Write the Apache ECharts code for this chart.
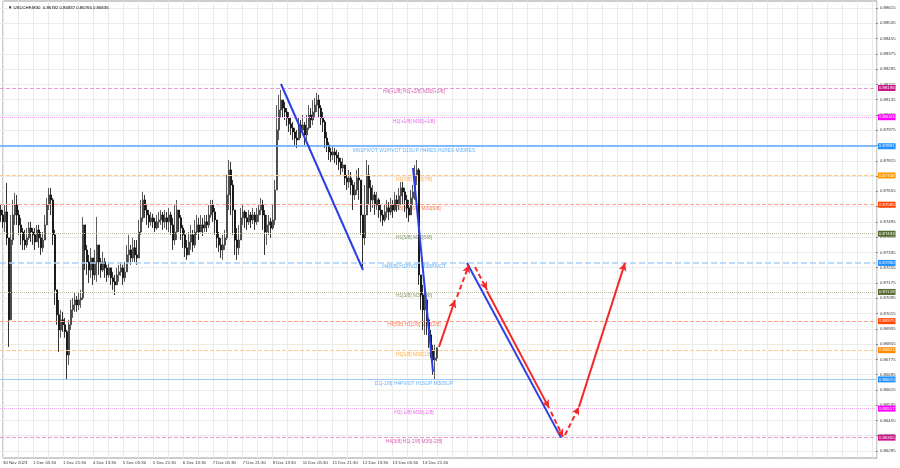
<!DOCTYPE html>
<html><head><meta charset="utf-8">
<script src="https://cdn.jsdelivr.net/npm/echarts@6.0.0/dist/echarts.min.js"></script>
<style>html,body{margin:0;padding:0;background:#fff}#c{width:900px;height:468px}</style>
</head><body><div id="c"></div>
<script>
// ---------- DATA ----------
const titleText = "\u25BC USDCHF,M30  0.86782 0.86837 0.86766 0.86836";
const firstOpen = 0.87557;
const closes = [
0.87531,0.87495,0.87547,0.87411,0.86982,0.87400,0.87531,0.87583,0.87531,0.87479,
0.87442,0.87400,0.87374,0.87411,0.87463,0.87442,0.87427,0.87390,0.87453,0.87411,
0.87359,0.87400,0.87479,0.87583,0.87636,0.87610,0.87427,0.87139,0.87008,0.86929,
0.86982,0.86956,0.86919,0.86798,0.86956,0.87034,0.87060,0.87086,0.87060,0.87086,
0.87097,0.87479,0.87348,0.87285,0.87243,0.87306,0.87217,0.87285,0.87374,0.87285,
0.87243,0.87285,0.87254,0.87217,0.87254,0.87202,0.87181,0.87165,0.87217,0.87233,
0.87254,0.87202,0.87233,0.87322,0.87348,0.87306,0.87359,0.87322,0.87306,0.87442,
0.87516,0.87610,0.87557,0.87531,0.87495,0.87516,0.87495,0.87463,0.87495,0.87505,
0.87531,0.87495,0.87516,0.87495,0.87531,0.87479,0.87400,0.87442,0.87557,0.87516,
0.87463,0.87427,0.87359,0.87322,0.87390,0.87427,0.87374,0.87442,0.87479,0.87442,
0.87479,0.87463,0.87495,0.87479,0.87531,0.87583,0.87547,0.87505,0.87411,0.87374,
0.87348,0.87374,0.87411,0.87636,0.87767,0.87688,0.87557,0.87400,0.87359,0.87400,
0.87516,0.87547,0.87516,0.87495,0.87531,0.87505,0.87531,0.87495,0.87531,0.87557,
0.87583,0.87531,0.87442,0.87479,0.87495,0.87463,0.87505,0.87662,0.87976,0.88081,
0.88133,0.88091,0.88070,0.88039,0.88008,0.87987,0.87966,0.87934,0.87924,0.88002,
0.87976,0.88002,0.87950,0.87987,0.88055,0.88029,0.88070,0.88107,0.88133,0.88091,
0.88039,0.88018,0.87934,0.87898,0.87861,0.87845,0.87861,0.87845,0.87830,0.87809,
0.87777,0.87793,0.87725,0.87704,0.87725,0.87688,0.87636,0.87662,0.87725,0.87714,
0.87531,0.87411,0.87531,0.87741,0.87673,0.87610,0.87636,0.87583,0.87610,0.87557,
0.87531,0.87505,0.87547,0.87568,0.87547,0.87583,0.87557,0.87610,0.87583,0.87631,
0.87673,0.87652,0.87610,0.87568,0.87531,0.87620,0.87652,0.87741,0.87767,0.87217,
0.87112,0.87034,0.87086,0.86982,0.86903,0.86824,0.86772,0.86782,0.86836
];
const highs = [
0.87583,0.87557,0.87583,0.87699,0.87348,0.87531,0.87610,0.87647,0.87636,0.87557,
0.87516,0.87463,0.87453,0.87463,0.87495,0.87495,0.87463,0.87463,0.87479,0.87479,
0.87442,0.87442,0.87531,0.87620,0.87673,0.87673,0.87620,0.87453,0.87139,0.87086,
0.87034,0.87024,0.86992,0.86929,0.86982,0.87086,0.87097,0.87128,0.87107,0.87128,
0.87139,0.87521,0.87400,0.87374,0.87322,0.87359,0.87285,0.87348,0.87521,0.87374,
0.87306,0.87338,0.87306,0.87270,0.87285,0.87243,0.87233,0.87217,0.87254,0.87270,
0.87285,0.87270,0.87285,0.87374,0.87427,0.87374,0.87411,0.87400,0.87400,0.87505,
0.87610,0.87652,0.87636,0.87583,0.87557,0.87547,0.87537,0.87516,0.87531,0.87547,
0.87557,0.87547,0.87557,0.87547,0.87568,0.87547,0.87516,0.87583,0.87610,0.87557,
0.87531,0.87479,0.87453,0.87400,0.87442,0.87479,0.87453,0.87505,0.87531,0.87516,
0.87531,0.87516,0.87531,0.87531,0.87583,0.87610,0.87610,0.87568,0.87505,0.87442,
0.87411,0.87427,0.87453,0.87741,0.87819,0.87809,0.87714,0.87531,0.87463,0.87479,
0.87568,0.87583,0.87557,0.87547,0.87557,0.87547,0.87568,0.87547,0.87568,0.87583,
0.87620,0.87610,0.87557,0.87531,0.87531,0.87516,0.87583,0.87714,0.88107,0.88160,
0.88186,0.88133,0.88123,0.88091,0.88070,0.88039,0.88018,0.87987,0.87976,0.88039,
0.88029,0.88055,0.88018,0.88055,0.88107,0.88091,0.88133,0.88144,0.88170,0.88160,
0.88107,0.88070,0.88029,0.87966,0.87913,0.87882,0.87892,0.87882,0.87872,0.87861,
0.87830,0.87830,0.87793,0.87741,0.87767,0.87756,0.87714,0.87704,0.87767,0.87777,
0.87714,0.87531,0.87688,0.87819,0.87793,0.87714,0.87688,0.87652,0.87652,0.87620,
0.87583,0.87557,0.87583,0.87610,0.87599,0.87620,0.87610,0.87652,0.87636,0.87673,
0.87704,0.87704,0.87673,0.87636,0.87610,0.87662,0.87688,0.87793,0.87819,0.87777,
0.87217,0.87165,0.87139,0.87086,0.86992,0.86929,0.86851,0.86851,0.86837
];
const lows = [
0.87495,0.87463,0.87442,0.87374,0.86840,0.86982,0.87374,0.87479,0.87479,0.87427,
0.87374,0.87348,0.87348,0.87359,0.87400,0.87390,0.87374,0.87348,0.87390,0.87359,
0.87322,0.87338,0.87411,0.87479,0.87557,0.87531,0.87374,0.87060,0.86956,0.86814,
0.86888,0.86919,0.86888,0.86667,0.86746,0.86929,0.86992,0.87024,0.87024,0.87034,
0.87045,0.87086,0.87243,0.87217,0.87175,0.87202,0.87165,0.87191,0.87181,0.87217,
0.87202,0.87233,0.87202,0.87181,0.87202,0.87165,0.87139,0.87112,0.87165,0.87181,
0.87212,0.87165,0.87181,0.87243,0.87285,0.87270,0.87285,0.87285,0.87270,0.87306,
0.87427,0.87495,0.87516,0.87479,0.87463,0.87474,0.87463,0.87442,0.87453,0.87463,
0.87479,0.87453,0.87463,0.87453,0.87442,0.87427,0.87348,0.87374,0.87400,0.87442,
0.87400,0.87359,0.87311,0.87296,0.87322,0.87348,0.87338,0.87359,0.87427,0.87400,
0.87442,0.87421,0.87442,0.87442,0.87463,0.87516,0.87495,0.87427,0.87359,0.87338,
0.87306,0.87296,0.87348,0.87400,0.87557,0.87531,0.87427,0.87322,0.87296,0.87322,
0.87400,0.87479,0.87463,0.87453,0.87479,0.87463,0.87484,0.87453,0.87479,0.87495,
0.87531,0.87453,0.87322,0.87374,0.87427,0.87411,0.87453,0.87479,0.87662,0.87924,
0.88039,0.88039,0.88029,0.87997,0.87966,0.87950,0.87924,0.87898,0.87882,0.87924,
0.87934,0.87950,0.87898,0.87924,0.87976,0.87987,0.88002,0.88039,0.88070,0.88039,
0.88002,0.87966,0.87882,0.87861,0.87819,0.87809,0.87819,0.87804,0.87793,0.87767,
0.87741,0.87756,0.87688,0.87662,0.87673,0.87636,0.87557,0.87610,0.87636,0.87610,
0.87427,0.87254,0.87374,0.87531,0.87583,0.87547,0.87568,0.87531,0.87557,0.87516,
0.87495,0.87474,0.87495,0.87516,0.87505,0.87531,0.87516,0.87547,0.87547,0.87557,
0.87583,0.87583,0.87547,0.87516,0.87495,0.87547,0.87583,0.87610,0.87688,0.87165,
0.87034,0.86929,0.86903,0.86903,0.86835,0.86783,0.86694,0.86667,0.86766
];
const timeLabels = ["30 Nov 2023","1 Dec 05:30","1 Dec 21:30","4 Dec 13:30","5 Dec 05:30","5 Dec 21:30","6 Dec 13:30","7 Dec 05:30","7 Dec 21:30","8 Dec 13:30","11 Dec 05:30","11 Dec 21:30","12 Dec 13:30","13 Dec 05:30","13 Dec 21:30"];
const levels = [0.88196,0.88043,0.87891,0.87738,0.87585,0.87433,0.87280,0.87128,0.86975,0.86823,0.86670,0.86517,0.86365];
const levelNames = ["H4[+1/8] H1[+2/8] M30[+2/8]","H1[+1/8] M30[+1/8]","MN1PIVOT W1PIVOT D1SUP H4RES H1RES M30RES","H1[7/8] M30[7/8]","H4[7/8] H1[6/8] M30[6/8]","H1[5/8] M30[5/8]","H4[6/8] H1PIVOT M30PIVOT","H1[3/8] M30[3/8]","H4[5/8] H1[2/8] M30[2/8]","H1[1/8] M30[1/8]","D1[-1/8] H4PIVOT H1SUP M30SUP","H1[-1/8] M30[-1/8]","H4[3/8] H1[-2/8] M30[-2/8]"];
const lastPrice = 0.86836;
// projection lines: [startSlot, startPrice, endSlot, endPrice]
const blueLines = [[140,0.88217,181,0.87243],[206,0.87777,216,0.86709],[233,0.87280,280,0.86365]];
const redSolid = [[219,0.86840,227,0.87086],[243,0.87133,274,0.86521],[289,0.86526,312,0.87280]];
const redDashed = [[228,0.87102,234,0.87270],[237,0.87259,243,0.87139],[275,0.86500,281,0.86369],[282,0.86379,289,0.86526]];
const levelTextSlot = 206;

// ---------- STYLE ----------
const FONT = '"Liberation Sans", Arial, sans-serif';
const tagColors = ['#c71585','#ff00ff','#1e90ff','#ff9900','#ff4500','#556b2f','#1e90ff','#556b2f','#ff4500','#ff8c00','#1e90ff','#ff00ff','#c71585'];
const lineColors = ['#ea9ad2','#f3a8f3','#59a9ff','#ffc98e','#ffa184','#bcbca0','#a9d0ff','#bcbca0','#ffa184','#ffc98e','#9fcaf2','#f3a8f3','#ea9ad2'];
const lineTypes = ['dashed','dotted','solid','dashed','dashed','dotted','dashed','dotted','dashed','dashed','solid','dotted','dashed'];
const lineWidths = [1,1,1.5,1,1,1,1.5,1,1,1,1,1,1];
const textColors = ['#cc3399','#e040e0','#3b9cff','#ff9a1a','#ff5a2a','#5e7a3a','#3b9cff','#5e7a3a','#ff5a2a','#ff9a1a','#3b9cff','#e040e0','#cc3399'];
const SLOTS = 438;

const slots = Array.from({length: SLOTS}, (_, i) => String(i));
const opens = [firstOpen].concat(closes.slice(0, -1));
const ohlc = closes.map((c, i) => {
  const o = opens[i];
  return [o, c, Math.min(lows[i], o, c), Math.max(highs[i], o, c)];
});

function tagLabel(text, bg) {
  return {show: true, position: 'end', distance: 2, formatter: text,
    backgroundColor: bg, color: '#fff', fontSize: 4.3, padding: [1, 1], fontFamily: FONT};
}
const levelMarks = levels.map((v, i) => ({
  yAxis: v,
  lineStyle: {color: lineColors[i], type: lineTypes[i], width: lineWidths[i]},
  label: tagLabel(v.toFixed(5), tagColors[i])
}));
levelMarks.push({yAxis: lastPrice, lineStyle: {opacity: 0, width: 0}, label: tagLabel(lastPrice.toFixed(5), '#000')});

function seg(s, color, type, arrow) {
  return [
    {coord: [s[0], s[1]], symbol: 'none', lineStyle: {color: color, width: 2, type: type}},
    {coord: [s[2], s[3]], symbol: arrow ? 'arrow' : 'none'}
  ];
}
const overlayMarks = []
  .concat(blueLines.map(s => seg(s, '#2c3fe6', 'solid', false)))
  .concat(redSolid.map(s => seg(s, '#f22a2a', 'solid', true)))
  .concat(redDashed.map(s => seg(s, '#f22a2a', [5, 3], true)));

const chart = echarts.init(document.getElementById('c'), null, {renderer: 'canvas'});
chart.setOption({
  animation: false,
  backgroundColor: '#ffffff',
  title: {text: titleText, left: 3, top: 1,
    textStyle: {fontSize: 4.3, fontWeight: 'normal', color: '#000', fontFamily: FONT}},
  grid: [
    {left: 0, right: 24, top: 8, bottom: 17},
    {left: 2, right: 23, top: 1, bottom: 10, show: true, borderColor: '#9a9a9a', borderWidth: 1}
  ],
  xAxis: [
    {type: 'category', gridIndex: 0, data: slots, boundaryGap: true, show: false},
    {type: 'value', gridIndex: 1, min: 0, max: 933.33, interval: 16,
      axisLine: {show: false}, axisTick: {show: false},
      splitLine: {show: true, lineStyle: {color: '#ebebeb', width: 1}},
      axisLabel: {show: true, align: 'left', margin: 3, fontSize: 4.3, color: '#333', fontFamily: FONT,
        showMaxLabel: false,
        formatter: v => (Math.abs(v % 32) < 1e-6 ? (timeLabels[Math.round(v / 32)] || '') : '')}}
  ],
  yAxis: [
    {type: 'value', gridIndex: 0, position: 'right', min: 0.86295, max: 0.88615, interval: 0.0008,
      axisLine: {show: false}, axisTick: {show: true, length: 2, lineStyle: {color: '#888'}},
      splitLine: {show: true, lineStyle: {color: '#ebebeb', width: 1}},
      axisLabel: {margin: 4, fontSize: 4.3, color: '#333', fontFamily: FONT, formatter: v => v.toFixed(5)}},
    {type: 'value', gridIndex: 1, show: false, min: 0, max: 1, splitLine: {show: false}}
  ],
  series: [
    {type: 'line', name: 'levelLines', xAxisIndex: 0, yAxisIndex: 0, data: closes, z: 0, silent: true,
      showSymbol: false, symbol: 'none', lineStyle: {opacity: 0, width: 0},
      markLine: {silent: true, symbol: 'none', animation: false, precision: 5, data: levelMarks}},
    {type: 'scatter', name: 'levelText', xAxisIndex: 0, yAxisIndex: 0, symbolSize: 0, z: 1, silent: true,
      data: levels.map((v, i) => ({value: [levelTextSlot, v],
        label: {show: true, position: 'inside', offset: [1, 4], formatter: levelNames[i],
          color: textColors[i], fontSize: 4.9, fontFamily: FONT}}))},
    {type: 'candlestick', name: 'USDCHF', xAxisIndex: 0, yAxisIndex: 0, data: ohlc, z: 2,
      barWidth: 1.6, silent: true,
      itemStyle: {color: '#6e6e6e', color0: '#111', borderColor: '#333', borderColor0: '#000', borderWidth: 0.8}},
    {type: 'line', name: 'projection', xAxisIndex: 0, yAxisIndex: 0, data: [], z: 3, silent: true,
      markLine: {silent: true, symbol: ['none', 'arrow'], symbolSize: [6, 8], animation: false,
        label: {show: false}, data: overlayMarks}}
  ]
});
</script></body></html>
